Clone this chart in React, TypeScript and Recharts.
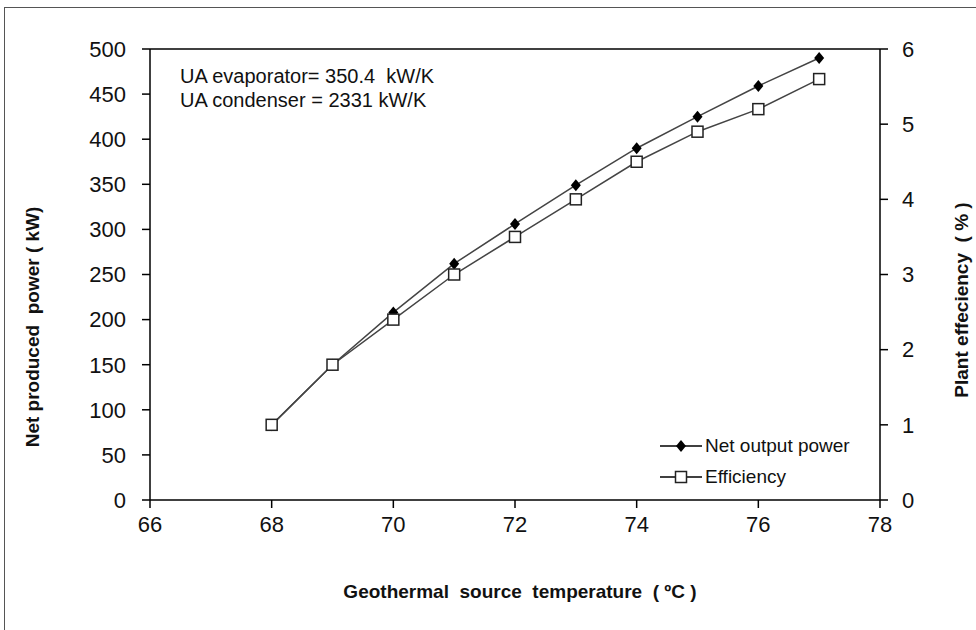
import { LineChart, Line, XAxis, YAxis, ReferenceLine } from "recharts";

const temperature = [68, 69, 70, 71, 72, 73, 74, 75, 76, 77];
const netPower = [83, 150, 208, 262, 306, 349, 390, 425, 459, 490];
const efficiency = [1.0, 1.8, 2.4, 3.0, 3.5, 4.0, 4.5, 4.9, 5.2, 5.6];
const tempTicks = [66, 68, 70, 72, 74, 76, 78];
const powerTicks = [0, 50, 100, 150, 200, 250, 300, 350, 400, 450, 500];
const effTicks = [0, 1, 2, 3, 4, 5, 6];

const FONT = '"Liberation Sans", Arial, sans-serif';
const LINE = "#444";

const data = temperature.map((t, i) => ({
  temp: t,
  power: netPower[i],
  eff: efficiency[i],
}));

function DiamondDot(props: any) {
  const { cx, cy } = props;
  if (cx == null || cy == null) return null;
  return (
    <path
      d={`M${cx},${cy - 6}L${cx + 5},${cy}L${cx},${cy + 6}L${cx - 5},${cy}Z`}
      fill="#000"
    />
  );
}

function SquareDot(props: any) {
  const { cx, cy } = props;
  if (cx == null || cy == null) return null;
  return (
    <rect x={cx - 5.5} y={cy - 5.5} width={11} height={11} fill="#fff" stroke="#222" strokeWidth={1.5} />
  );
}

// legend sits inside the plot, bottom right
function ChartLegend() {
  const row = { display: "flex", alignItems: "center", height: 31 } as const;
  return (
    <div style={{ position: "absolute", left: 660, top: 430, fontFamily: FONT, fontSize: 19, color: "#111" }}>
      <div style={row}>
        <svg width={42} height={14}>
          <line x1={0} y1={7} x2={42} y2={7} stroke="#000" strokeWidth={1.5} />
          <DiamondDot cx={21} cy={7} />
        </svg>
        <span style={{ marginLeft: 3, whiteSpace: "pre" }}>Net output power</span>
      </div>
      <div style={row}>
        <svg width={42} height={14}>
          <line x1={0} y1={7} x2={42} y2={7} stroke="#000" strokeWidth={1.5} />
          <SquareDot cx={21} cy={7} />
        </svg>
        <span style={{ marginLeft: 3 }}>Efficiency</span>
      </div>
    </div>
  );
}

const tickStyle = { fontSize: 22, fill: "#111", fontFamily: FONT };
const titleStyle = {
  position: "absolute",
  fontFamily: FONT,
  fontWeight: "bold",
  fontSize: 19,
  color: "#111",
  whiteSpace: "pre",
} as const;

export default function App() {
  return (
    <div style={{ position: "fixed", left: 0, top: 0, width: 976, height: 630, overflow: "hidden", background: "#fff" }}>
      <div style={{ position: "absolute", left: 4, top: 7, width: 1000, height: 700, border: "1px solid #555" }} />

      <LineChart
        width={976}
        height={630}
        data={data}
        margin={{ top: 49, right: 0, bottom: 0, left: 0 }}
        style={{ position: "absolute", left: 0, top: 0 }}
      >
        <XAxis
          dataKey="temp"
          type="number"
          domain={[66, 78]}
          ticks={tempTicks}
          height={130}
          tick={tickStyle}
          tickSize={8}
          tickMargin={8}
          stroke="#000"
          strokeWidth={1.5}
        />
        <YAxis
          yAxisId="left"
          domain={[0, 500]}
          ticks={powerTicks}
          width={150}
          tick={tickStyle}
          tickSize={8}
          tickMargin={16}
          stroke="#000"
          strokeWidth={1.5}
        />
        <YAxis
          yAxisId="right"
          orientation="right"
          domain={[0, 6]}
          ticks={effTicks}
          width={96}
          tick={tickStyle}
          tickSize={8}
          tickMargin={14}
          stroke="#000"
          strokeWidth={1.5}
        />
        <ReferenceLine yAxisId="left" y={500} stroke="#000" strokeWidth={1.5} />
        <Line
          yAxisId="left"
          dataKey="power"
          name="Net output power"
          stroke={LINE}
          strokeWidth={1.5}
          dot={<DiamondDot />}
          activeDot={false}
          isAnimationActive={false}
        />
        <Line
          yAxisId="right"
          dataKey="eff"
          name="Efficiency"
          stroke={LINE}
          strokeWidth={1.5}
          dot={<SquareDot />}
          activeDot={false}
          isAnimationActive={false}
        />
      </LineChart>

      <ChartLegend />

      <div style={{ position: "absolute", left: 180, top: 64, fontFamily: FONT, fontSize: 20, lineHeight: "24px", color: "#111", whiteSpace: "pre" }}>
        {"UA evaporator= 350.4  kW/K\nUA condenser = 2331 kW/K"}
      </div>

      <div style={{ ...titleStyle, left: 520, top: 592, transform: "translate(-50%, -50%)" }}>
        {"Geothermal  source  temperature  ( ºC )"}
      </div>
      <div style={{ ...titleStyle, left: 33, top: 327, transform: "translate(-50%, -50%) rotate(-90deg)" }}>
        {"Net produced  power ( kW)"}
      </div>
      <div style={{ ...titleStyle, left: 962, top: 300, transform: "translate(-50%, -50%) rotate(-90deg)" }}>
        {"Plant effeciency  ( % )"}
      </div>
    </div>
  );
}
